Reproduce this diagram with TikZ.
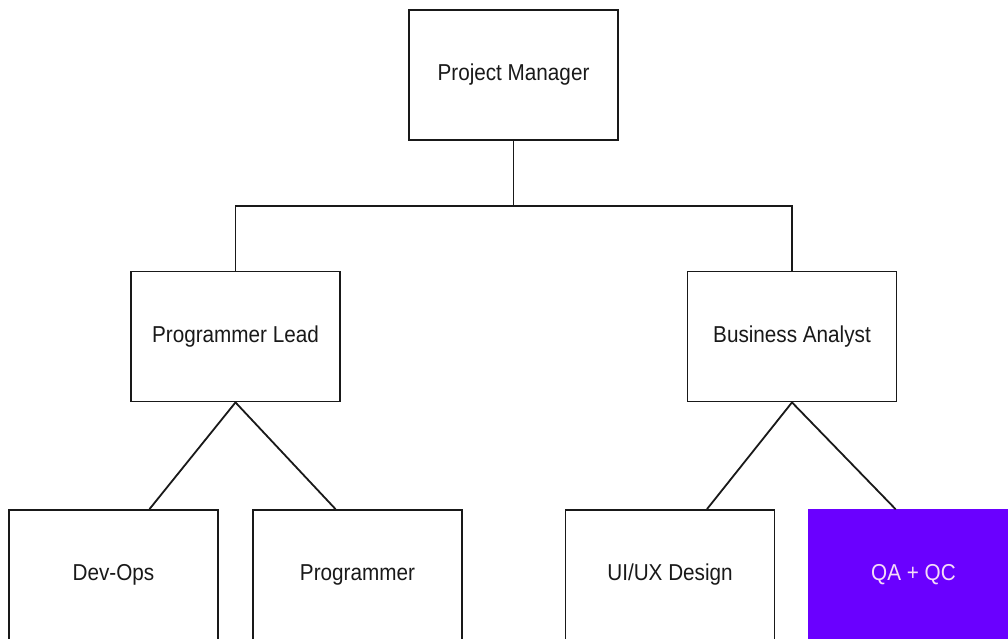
\documentclass[tikz,border=0pt]{standalone}
\usepackage{fontspec}
\setmainfont{Liberation Sans}
\newfontfamily\rolefont[FakeStretch=0.9]{Liberation Sans}
\usetikzlibrary{calc}
\definecolor{qapurple}{HTML}{6A00FF}
\definecolor{qatext}{HTML}{F5DDF8}

\begin{document}
\begin{tikzpicture}[x=1pt,y=-1pt,line width=1.8pt,cap=round,
    role/.style={draw=black!90,fill=white,minimum width=209pt,minimum height=130pt,
        inner sep=0pt,font=\rolefont\fontsize{23}{26}\selectfont,text=black!90}]
            % fix the page
            \useasboundingbox (0,0) rectangle (1008,639);
            \clip (0,0) rectangle (1008,639);

            % draw the boxes
            \node[role] (pm) at (513.5,75) {Project Manager};
            \node[role] (lead) at (235.5,336.5) {Programmer Lead};
            \node[role] (ba) at (792,336.5) {Business Analyst};
            \node[role] (devops) at (113.5,575) {Dev-Ops};
            \node[role] (prog) at (357.5,575) {Programmer};
            \node[role] (uiux) at (670,575) {UI/UX Design};
            \node[role,fill=qapurple,draw=qapurple,text=qatext] (qa) at (913.5,575) {QA + QC};

            % top level split
            \draw[black!90] (pm.south) -- ++(0,65) coordinate (split);
            \draw[black!90] (split) -| (lead.north);
            \draw[black!90] (split) -| (ba.north);

            % lower branches
            \draw[black!90] (lead.south) -- ($(devops.north)+(36,0)$);
            \draw[black!90] (lead.south) -- ($(prog.north)+(-22,0)$);
            \draw[black!90] (ba.south) -- ($(uiux.north)+(37,0)$);
            \draw[black!90] (ba.south) -- ($(qa.north)+(-18,0)$);
\end{tikzpicture}
\end{document}
